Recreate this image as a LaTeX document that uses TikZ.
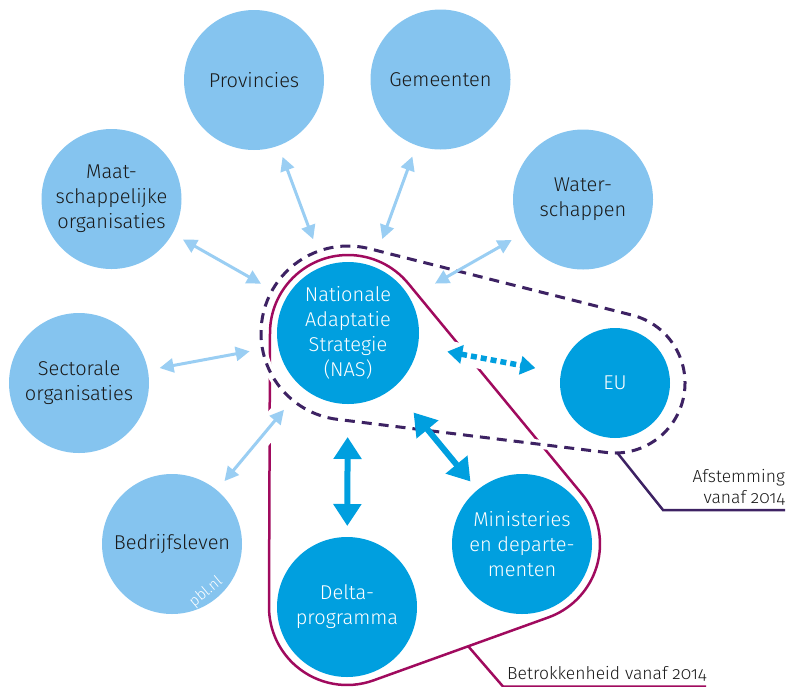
\documentclass[tikz,border=0pt]{standalone}
\usepackage{fontspec}
\setmainfont{Fira Sans Light}[Numbers=OldStyle]
\usetikzlibrary{arrows.meta,calc}
\definecolor{lightc}{HTML}{85C4EF}
\definecolor{lightarrow}{HTML}{9ACEF3}
\definecolor{darkc}{HTML}{009FDF}
\definecolor{purp}{HTML}{3D2263}
\definecolor{mag}{HTML}{A00A5E}
\definecolor{txt}{HTML}{1A1A1A}
\begin{document}
\begin{tikzpicture}[x=1pt,y=-1pt,
  lightnode/.style={circle, fill=lightc, minimum size=140pt, inner sep=0pt, outer sep=0pt,
    text=txt, align=center, font=\fontsize{20}{25}\selectfont},
  darknode/.style={lightnode, fill=darkc, text=white},
  lightarr/.style={draw=lightarrow, line width=3pt,
    arrows={Triangle[length=14pt,width=14pt]-Triangle[length=14pt,width=14pt]},
    shorten <=12pt, shorten >=29pt},
  darkarr/.style={draw=darkc, line width=6pt,
    arrows={Triangle[length=22pt,width=27pt]-Triangle[length=22pt,width=27pt]}},
  dotarr/.style={draw=darkc, line width=5.5pt, dash pattern=on 6pt off 4pt,
    arrows={Triangle[length=15pt,width=18pt]-Triangle[length=15pt,width=18pt]}},
  knock/.style 2 args={preaction={draw=white, line width=22pt, arrows=-, solid,
    shorten <=#1, shorten >=#2}},
  magline/.style={draw=mag, line width=2.5pt, line join=round},
  dashline/.style={draw=purp, line width=3pt, dash pattern=on 10pt off 7pt,
    preaction={draw=white, line width=9pt, solid}},
  leader/.style={line width=2.5pt},
  lbl/.style={inner sep=0pt, text=txt, font=\fontsize{17.5}{21}\selectfont}
]
\useasboundingbox (0,0) rectangle (787,686);

% circles (positions)
\node[lightnode] (PROV) at (254,80) {Provincies};
\node[lightnode] (GEM) at (440.5,79.5) {Gemeenten};
\node[lightnode] (MAAT) at (111.5,199) {Maat-\\schappelijke\\organisaties};
\node[lightnode] (WAT) at (583,199.5) {Water-\\schappen};
\node[lightnode] (SECT) at (79,383) {Sectorale\\organisaties};
\node[lightnode] (BEDR) at (172,544) {Bedrijfsleven};
\node[darknode, minimum size=142pt] (NAS) at (348,333) {Nationale\\Adaptatie\\Strategie\\(NAS)};
\node[darknode, minimum size=110pt] (EU) at (615,383) {EU};
\node[darknode] (MIN) at (522,544) {Ministeries\\en departe-\\menten};
\node[darknode] (DEL) at (347,607) {Delta-\\programma};

% magenta loop (Betrokkenheid)
\draw[magline] ($(NAS)+(180:78)$) arc[start angle=180, end angle=320.5, radius=78]
  -- ($(MIN)+(-39.5:78)$) arc[start angle=-39.5, end angle=70.2, radius=78]
  -- ($(DEL)+(70.2:78)$) arc[start angle=70.2, end angle=180, radius=78]
  -- cycle;

% dashed loop (Afstemming)
\draw[dashline] ($(NAS)+(97:87)$) arc[start angle=97, end angle=284.2, radius=87]
  -- ($(EU)+(-75.8:70)$) arc[start angle=-75.8, end angle=97, radius=70]
  -- cycle;

% leaders
\coordinate (afs0) at ($(EU)+(88:70)$);
\coordinate (afs1) at (663,510);
\coordinate (afs2) at (785,510);
\draw[leader, draw=purp] (afs0) -- (afs1) -- (afs2);
\coordinate (bet0) at (468,646);
\coordinate (bet1) at (503,686.5);
\coordinate (bet2) at (706,686.5);
\draw[leader, draw=mag] (bet0) -- (bet1) -- (bet2);

% light arrows
\draw[lightarr] (PROV) -- (NAS);
\draw[lightarr] (GEM) -- (NAS);
\draw[lightarr] (MAAT) -- (NAS);
\draw[lightarr] (WAT) -- (NAS);
\draw[lightarr] (SECT) -- (NAS);
\draw[lightarr, knock={12pt}{29pt}] (BEDR) -- (NAS);

% dark arrows
\draw[darkarr, shorten <=33pt, shorten >=11pt] (NAS) -- (DEL);
\draw[darkarr, shorten <=32pt, shorten >=11pt] (NAS) -- (MIN);
\draw[dotarr, knock={30pt}{26pt}, shorten <=30pt, shorten >=26pt] (NAS) -- (EU);

% labels
\node[lbl, anchor=base east] (afst1) at (785,482) {Afstemming};
\node[lbl, anchor=base east] (afst2) at (785,503) {vanaf 2014};
\node[lbl, anchor=base west] (betr) at (507,679) {Betrokkenheid vanaf 2014};
\node[text=white, rotate=40, inner sep=0pt, font=\fontsize{15}{15}\selectfont] (pbl) at (206,592) {pbl.nl};
\end{tikzpicture}
\end{document}
